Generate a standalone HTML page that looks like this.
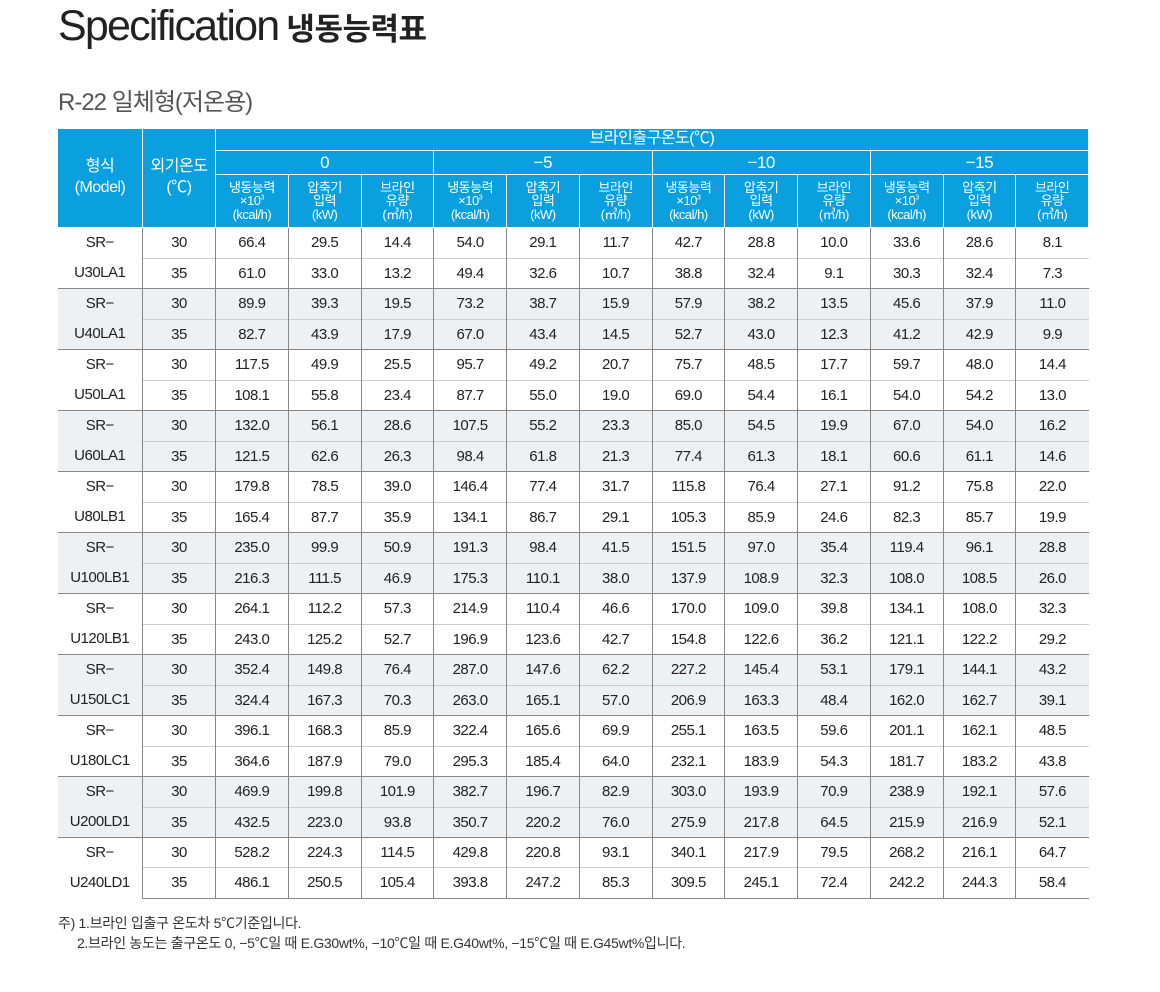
<!DOCTYPE html>
<html><head><meta charset="utf-8">
<style>
body{margin:0;width:1160px;height:992px;background:#fff;font-family:"Liberation Sans","Noto Sans CJK KR",sans-serif;position:relative;overflow:hidden}
#title{position:absolute;left:58px;top:2px;font-size:43px;color:#222;letter-spacing:-1.8px;white-space:nowrap}
#title span{font-size:31px;letter-spacing:-0.5px;font-weight:bold;margin-left:8px}
#sub{position:absolute;left:58px;top:82px;font-size:24px;color:#555;letter-spacing:-1px}
table{position:absolute;left:57px;top:128px;border-collapse:collapse;table-layout:fixed;width:1031px}
th{background:#0aa0e0;color:#fff;font-weight:normal;border:1px solid #fff;padding:0;line-height:1.05;letter-spacing:-0.5px}
td{border-left:1px solid #888;border-right:1px solid #888;border-top:1px solid #ccc;text-align:center;font-size:15px;color:#222;padding:0;height:29.27px;letter-spacing:-0.5px}
td.m{font-size:15px;line-height:30px}
tr.g td{border-top:1px solid #888}
tr.alt td{background:#eef1f4}
tbody tr:last-child td{border-bottom:1px solid #888}
td:first-child{border-left:none}
td:last-child{border-right:none}
.sm{font-size:13px}
.note{position:absolute;left:58px;font-size:14px;color:#333;letter-spacing:-0.3px}
</style></head><body>
<div id="title">Specification<span>냉동능력표</span></div>
<div id="sub">R-22 일체형(저온용)</div>
<table>
<colgroup><col style="width:85px"><col style="width:73px"><col span="12" style="width:72.75px"></colgroup>
<thead>
<tr style="height:22px"><th rowspan="3" style="font-size:16px;line-height:1.3">형식<br>(Model)</th><th rowspan="3" style="font-size:16px;line-height:1.3">외기온도<br>(℃)</th><th colspan="12" style="font-size:16px">브라인출구온도(℃)</th></tr>
<tr style="height:24px" id="grp"></tr>
<tr style="height:53px" id="sub3"></tr>
</thead>
<tbody id="body"></tbody>
</table>
<div class="note" style="top:913px">주)&nbsp;1.브라인 입출구 온도차 5℃기준입니다.</div>
<div class="note" style="top:933px;left:77px">2.브라인 농도는 출구온도 0, −5℃일 때 E.G30wt%, −10℃일 때 E.G40wt%, −15℃일 때 E.G45wt%입니다.</div>
<script>
const groups=["0","−5","−10","−15"];
const models=["U30LA1","U40LA1","U50LA1","U60LA1","U80LB1","U100LB1","U120LB1","U150LC1","U180LC1","U200LD1","U240LD1"];
const temps=["30","35"];
const rows=[
["66.4","29.5","14.4","54.0","29.1","11.7","42.7","28.8","10.0","33.6","28.6","8.1"],
["61.0","33.0","13.2","49.4","32.6","10.7","38.8","32.4","9.1","30.3","32.4","7.3"],
["89.9","39.3","19.5","73.2","38.7","15.9","57.9","38.2","13.5","45.6","37.9","11.0"],
["82.7","43.9","17.9","67.0","43.4","14.5","52.7","43.0","12.3","41.2","42.9","9.9"],
["117.5","49.9","25.5","95.7","49.2","20.7","75.7","48.5","17.7","59.7","48.0","14.4"],
["108.1","55.8","23.4","87.7","55.0","19.0","69.0","54.4","16.1","54.0","54.2","13.0"],
["132.0","56.1","28.6","107.5","55.2","23.3","85.0","54.5","19.9","67.0","54.0","16.2"],
["121.5","62.6","26.3","98.4","61.8","21.3","77.4","61.3","18.1","60.6","61.1","14.6"],
["179.8","78.5","39.0","146.4","77.4","31.7","115.8","76.4","27.1","91.2","75.8","22.0"],
["165.4","87.7","35.9","134.1","86.7","29.1","105.3","85.9","24.6","82.3","85.7","19.9"],
["235.0","99.9","50.9","191.3","98.4","41.5","151.5","97.0","35.4","119.4","96.1","28.8"],
["216.3","111.5","46.9","175.3","110.1","38.0","137.9","108.9","32.3","108.0","108.5","26.0"],
["264.1","112.2","57.3","214.9","110.4","46.6","170.0","109.0","39.8","134.1","108.0","32.3"],
["243.0","125.2","52.7","196.9","123.6","42.7","154.8","122.6","36.2","121.1","122.2","29.2"],
["352.4","149.8","76.4","287.0","147.6","62.2","227.2","145.4","53.1","179.1","144.1","43.2"],
["324.4","167.3","70.3","263.0","165.1","57.0","206.9","163.3","48.4","162.0","162.7","39.1"],
["396.1","168.3","85.9","322.4","165.6","69.9","255.1","163.5","59.6","201.1","162.1","48.5"],
["364.6","187.9","79.0","295.3","185.4","64.0","232.1","183.9","54.3","181.7","183.2","43.8"],
["469.9","199.8","101.9","382.7","196.7","82.9","303.0","193.9","70.9","238.9","192.1","57.6"],
["432.5","223.0","93.8","350.7","220.2","76.0","275.9","217.8","64.5","215.9","216.9","52.1"],
["528.2","224.3","114.5","429.8","220.8","93.1","340.1","217.9","79.5","268.2","216.1","64.7"],
["486.1","250.5","105.4","393.8","247.2","85.3","309.5","245.1","72.4","242.2","244.3","58.4"]
];
const subHeads=["냉동능력<br>×10<sup style='font-size:7px'>3</sup><br>(kcal/h)","압축기<br>입력<br>(kW)","브라인<br>유량<br>(㎥/h)"];
const grp=document.getElementById('grp');
groups.forEach(g=>{const th=document.createElement('th');th.colSpan=3;th.style.fontSize='17px';th.textContent=g;


grp.appendChild(th);});
const s3=document.getElementById('sub3');
groups.forEach(()=>subHeads.forEach(h=>{const th=document.createElement('th');th.className='sm';th.innerHTML=h;


s3.appendChild(th);}));
const body=document.getElementById('body');
rows.forEach((r,i)=>{const tr=document.createElement('tr');const mi=Math.floor(i/2);
if(i%2===0)tr.className='g';if(mi%2===1)tr.className+=' alt';


if(i%2===0){const td=document.createElement('td');td.rowSpan=2;td.className='m';td.innerHTML='SR−<br>'+models[mi];


tr.appendChild(td);}
const t=document.createElement('td');t.textContent=temps[i%2];


tr.appendChild(t);
r.forEach(v=>{const td=document.createElement('td');td.textContent=v;


tr.appendChild(td);});
body.appendChild(tr);});
</script>
</body></html>
